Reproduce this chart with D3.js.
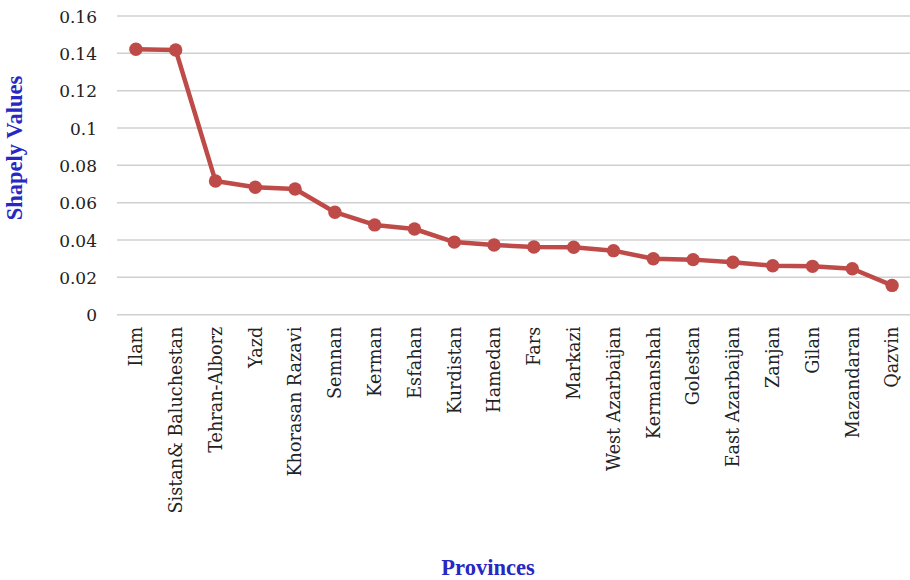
<!DOCTYPE html>
<html>
<head>
<meta charset="utf-8">
<script src="https://cdn.jsdelivr.net/npm/d3@7"></script>
<style>
  html, body { margin: 0; padding: 0; background: #fff; }
  svg { display: block; }
</style>
</head>
<body>
<svg id="chart" width="910" height="580"></svg>
<script>
// Provinces ranked by Shapley value
const provinces = ["Ilam", "Sistan& Baluchestan", "Tehran-Alborz", "Yazd", "Khorasan Razavi",
  "Semnan", "Kerman", "Esfahan", "Kurdistan", "Hamedan", "Fars", "Markazi",
  "West Azarbaijan", "Kermanshah", "Golestan", "East Azarbaijan", "Zanjan", "Gilan",
  "Mazandaran", "Qazvin"];
const shapleyValues = [0.1422, 0.1418, 0.0716, 0.0683, 0.0673, 0.0549, 0.0481, 0.0459,
  0.0389, 0.0373, 0.0363, 0.0361, 0.0343, 0.0300, 0.0295, 0.0281, 0.0262, 0.0259,
  0.0246, 0.0157];
const yTicks = [0, 0.02, 0.04, 0.06, 0.08, 0.1, 0.12, 0.14, 0.16];
const yTickLabels = ["0", "0.02", "0.04", "0.06", "0.08", "0.1", "0.12", "0.14", "0.16"];

const svg = d3.select("#chart");
const x0 = 116, x1 = 912, yTop = 16, yBottom = 314.7;

const x = d3.scaleBand().domain(provinces).range([x0, x1]);
const y = d3.scaleLinear().domain([0, 0.16]).range([yBottom, yTop]);

const tickFont = "'DejaVu Serif', 'Liberation Serif', serif";
const titleFont = "'Liberation Serif', 'DejaVu Serif', serif";

// Horizontal gridlines
svg.append("g")
  .selectAll("line")
  .data(yTicks)
  .join("line")
  .attr("x1", x0 + 1).attr("x2", 910)
  .attr("y1", d => y(d)).attr("y2", d => y(d))
  .attr("stroke", "#d0d0d0")
  .attr("stroke-width", 1.5);

// Y axis tick labels
const yAxis = d3.axisLeft(y).tickValues(yTicks)
  .tickFormat((d, i) => yTickLabels[i]).tickSize(0).tickPadding(0);
svg.append("g")
  .attr("transform", `translate(97,0)`)
  .call(yAxis)
  .call(g => g.select(".domain").remove())
  .call(g => g.selectAll("text")
    .attr("font-family", tickFont)
    .attr("font-size", 17)
    .attr("fill", "#222")
    .attr("dy", "0.36em"));

// X axis category labels, rotated
const xAxis = d3.axisBottom(x).tickSize(0).tickPadding(0);
svg.append("g")
  .attr("transform", `translate(0,${yBottom})`)
  .call(xAxis)
  .call(g => g.select(".domain").remove())
  .call(g => g.selectAll("text")
    .attr("font-family", tickFont)
    .attr("font-size", 17.6)
    .attr("fill", "#222")
    .attr("text-anchor", "end")
    .attr("transform", "rotate(-90)")
    .attr("x", -12)
    .attr("y", 0)
    .attr("dy", "0.36em"));

// Line and markers
const lineColor = "#be4b48";
const line = d3.line()
  .x((d, i) => x(provinces[i]) + x.bandwidth() / 2)
  .y(d => y(d));

svg.append("path")
  .datum(shapleyValues)
  .attr("d", line)
  .attr("fill", "none")
  .attr("stroke", lineColor)
  .attr("stroke-width", 4.5)
  .attr("stroke-linejoin", "round");

svg.append("g")
  .selectAll("circle")
  .data(shapleyValues)
  .join("circle")
  .attr("cx", (d, i) => x(provinces[i]) + x.bandwidth() / 2)
  .attr("cy", d => y(d))
  .attr("r", 6.7)
  .attr("fill", lineColor);

// Axis titles
const titleColor = "#2727c4";
svg.append("text")
  .attr("transform", `translate(22,148) rotate(-90)`)
  .attr("text-anchor", "middle")
  .attr("font-family", titleFont)
  .attr("font-weight", "bold")
  .attr("font-size", 22.5)
  .attr("fill", titleColor)
  .text("Shapely Values");

svg.append("text")
  .attr("x", 488)
  .attr("y", 574.5)
  .attr("text-anchor", "middle")
  .attr("font-family", titleFont)
  .attr("font-weight", "bold")
  .attr("font-size", 22.5)
  .attr("fill", titleColor)
  .text("Provinces");
</script>
</body>
</html>
